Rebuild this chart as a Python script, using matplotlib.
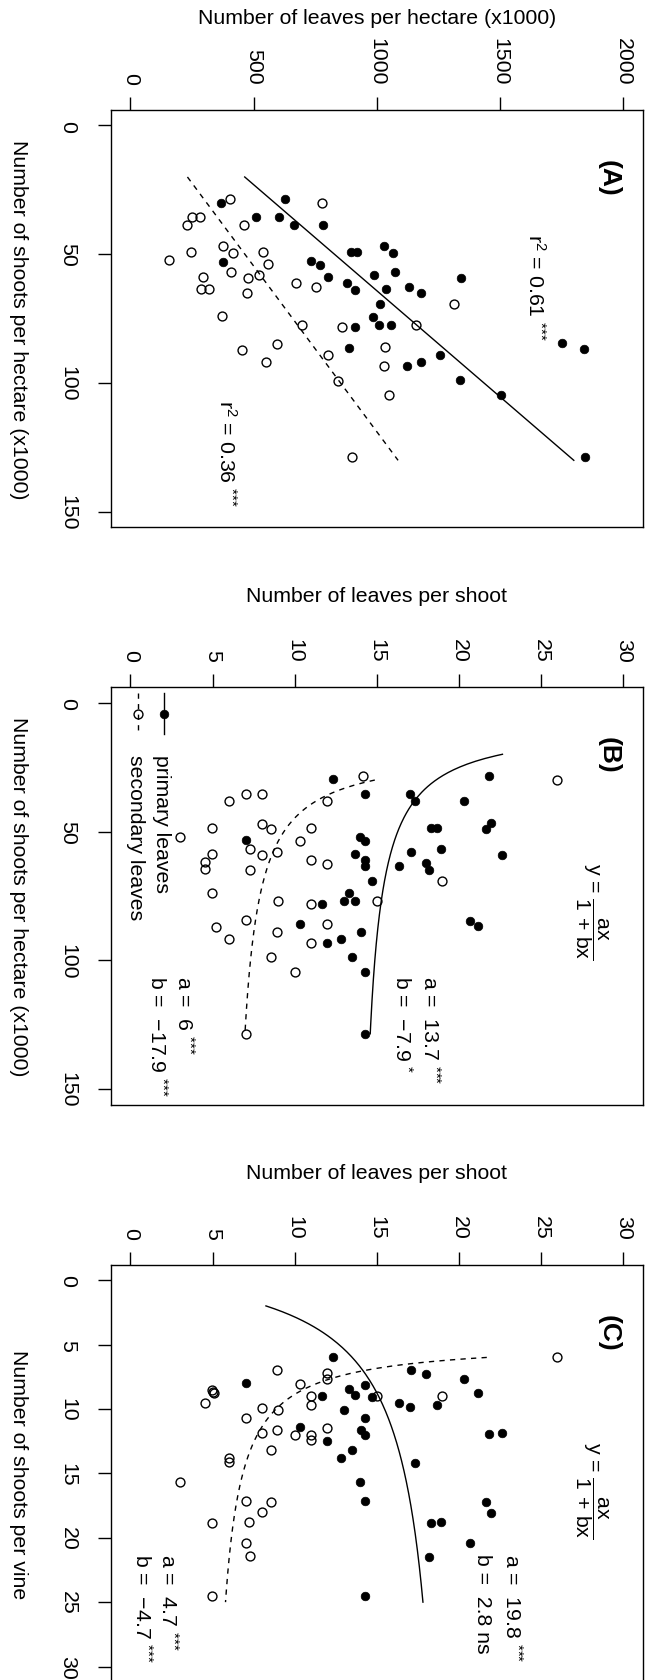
import numpy as np
import matplotlib
matplotlib.use("Agg")
import matplotlib.pyplot as plt

plt.rcParams['font.family'] = ['Liberation Sans', 'DejaVu Sans']
plt.rcParams['mathtext.fontset'] = 'custom'
plt.rcParams['mathtext.rm'] = 'Liberation Sans'
plt.rcParams['mathtext.it'] = 'Liberation Sans'
plt.rcParams['mathtext.sf'] = 'Liberation Sans'
plt.rcParams['mathtext.bf'] = 'Liberation Sans:bold'
plt.rcParams['axes.linewidth'] = 1.0

# ---- (A) leaves per hectare vs shoots per hectare ----
a_prim_shoots = [30.0, 28.7, 35.7, 35.4, 38.5, 38.5, 49.0, 49.0, 46.9, 49.4, 53.2, 52.5,
                 54.0, 58.7, 57.9, 56.7, 61.2, 63.7, 63.3, 62.9, 65.1, 59.4, 69.4, 74.2,
                 77.3, 77.3, 78.2, 86.2, 89.3, 93.4, 92.0, 84.6, 86.8, 99.0, 104.7, 128.8]
a_prim_leaves = [369, 626, 509, 602, 665, 781, 897, 918, 1028, 1066, 375, 732,
                 770, 802, 989, 1073, 877, 912, 1038, 1131, 1181, 1342, 1014, 986,
                 1007, 1056, 912, 889, 1256, 1121, 1179, 1751, 1840, 1336, 1504, 1844]
a_sec_shoots = [28.7, 30.1, 35.7, 35.7, 38.5, 38.5, 46.9, 49.4, 49.0, 49.0, 52.3, 53.7,
                56.8, 57.9, 59.3, 58.8, 63.6, 63.6, 65.1, 61.1, 62.9, 74.0, 69.4, 77.4,
                78.2, 77.4, 84.8, 87.0, 91.9, 89.3, 86.0, 93.4, 99.1, 104.8, 128.7]
a_sec_leaves = [406, 778, 248, 284, 231, 461, 375, 418, 538, 245, 157, 558,
                410, 520, 476, 294, 287, 320, 473, 672, 754, 370, 1315, 696,
                859, 1160, 595, 451, 552, 800, 1032, 1028, 843, 1049, 901]
# linear fits (intercept, slope), drawn over shoots 20..130
a_prim_fit = (221, 12.14)
a_sec_fit = (76, 7.77)

# ---- (B) leaves per shoot vs shoots per hectare ----
b_prim_leaves = [21.85, 12.34, 14.30, 16.99, 17.31, 20.31, 21.96, 21.64, 18.30, 18.64, 13.96, 14.30,
                 7.01, 13.67, 17.05, 18.89, 22.64, 14.30, 14.30, 16.35, 17.98, 18.15, 14.68, 13.31,
                 11.66, 12.99, 13.67, 10.33, 20.65, 21.18, 14.05, 12.80, 11.98, 13.46, 14.30, 14.30]
b_prim_shoots = [28.6, 29.7, 35.6, 35.5, 38.3, 38.3, 46.7, 49.1, 48.8, 48.8, 52.0, 53.8,
                 53.1, 58.7, 58.1, 56.9, 59.1, 61.0, 63.2, 63.5, 62.4, 64.9, 69.3, 73.8,
                 78.2, 77.1, 77.1, 85.9, 84.6, 86.7, 89.0, 91.6, 93.4, 98.7, 104.7, 128.5]
b_sec_leaves = [25.98, 14.18, 11.98, 7.01, 8.00, 6.01, 8.00, 8.53, 11.00, 4.98, 10.33, 2.99,
                7.26, 8.00, 8.95, 4.98, 11.00, 11.98, 4.51, 4.51, 7.26, 18.99, 4.98, 8.99,
                11.00, 15.02, 7.01, 11.98, 5.19, 8.95, 6.01, 11.00, 8.53, 10.01, 7.01]
b_sec_shoots = [29.8, 28.6, 38.3, 35.6, 35.6, 38.3, 47.0, 49.1, 48.8, 48.8, 53.8, 52.2,
                56.6, 59.0, 57.9, 58.6, 61.0, 62.7, 61.9, 64.5, 65.0, 69.1, 73.8, 77.1,
                78.2, 77.1, 84.4, 85.9, 86.9, 89.1, 91.6, 93.4, 98.7, 104.7, 128.5]
b_prim_ab = (13.7, -7.9)
b_sec_ab = (6.0, -17.9)

# ---- (C) leaves per shoot vs shoots per vine ----
c_prim_leaves = [12.34, 17.05, 17.98, 20.31, 21.16, 7.01, 14.30, 13.31, 13.67, 14.68, 11.64, 16.35,
                 16.99, 18.64, 12.99, 14.30, 10.33, 14.05, 14.30, 11.98, 21.85, 22.64, 13.46, 12.80,
                 17.31, 13.99, 14.30, 21.64, 21.96, 18.30, 18.89, 20.65, 18.15, 14.30]
c_prim_shoots = [5.95, 6.94, 7.27, 7.66, 8.78, 8.02, 8.13, 8.46, 8.88, 9.06, 8.98, 9.53,
                 9.86, 9.66, 10.07, 10.67, 11.44, 11.60, 12.04, 12.48, 11.96, 11.86, 13.18, 13.80,
                 14.19, 15.66, 17.14, 17.21, 18.07, 18.85, 18.77, 20.40, 21.49, 24.54]
c_sec_leaves = [25.98, 8.95, 11.98, 11.98, 10.33, 4.94, 5.04, 5.11, 4.51, 11.00, 11.00, 15.02,
                18.99, 8.00, 8.99, 7.01, 11.98, 8.95, 8.00, 10.01, 11.00, 11.00, 8.53, 5.99,
                5.99, 2.99, 7.01, 8.53, 8.00, 4.98, 7.22, 7.01, 7.26, 4.98]
c_sec_shoots = [5.95, 6.96, 7.22, 7.71, 8.08, 8.5, 8.7, 8.8, 9.53, 8.98, 9.71, 8.96,
                9.01, 9.89, 10.07, 10.67, 11.47, 11.65, 11.88, 12.04, 12.06, 12.43, 13.20, 13.80,
                14.13, 15.66, 17.14, 17.19, 18.02, 18.85, 18.77, 20.37, 21.43, 24.49]
c_prim_ab = (19.8, 2.8)
c_sec_ab = (4.7, -4.7)

# ---- layout (pixels) ----
W, H = 646, 1681
ax_left, ax_w, ax_h = 110.7, 532.3, 417.3
ax_tops = [111.0, 688.3, 1265.7]
FS = 15.3
MS_OPEN, MS_FILL = 6.4, 6.2
DASH = (3.8, 3.8)
STARS = r"$^{{*}{*}{*}}$"
FORMULA = r"y = $\dfrac{ax}{1\,+\,bx}$"

fig = plt.figure(figsize=(W / 100, H / 100), dpi=100)


def hyper(ab, s):
    a, b = ab
    return a * s / (s + b)


def setup(ax, xlim, ylim, xticks, yticks, xlabel, ylabel, top):
    ax.set_xlim(*xlim)
    ax.set_ylim(*ylim)
    ax.xaxis.tick_top()
    ax.set_xticks(xticks)
    ax.set_xticklabels([str(t) for t in xticks], rotation=-90)
    ax.set_yticks(yticks)
    ax.set_yticklabels([str(t) for t in yticks], rotation=-90, va='center')
    ax.tick_params(axis='both', direction='out', length=9.6, width=1.0,
                   labelsize=FS, colors='black')
    ax.tick_params(axis='x', pad=9.1)
    ax.tick_params(axis='y', pad=14.3)
    cx = (ax_left + ax_w / 2) / W
    fig.text(cx, 1 - (top - 92) / H, xlabel, ha='center', va='center', fontsize=FS)
    cy = 1 - (top + ax_h / 2) / H
    fig.text((ax_left - 92) / W, cy, ylabel, ha='center', va='center',
             rotation=-90, fontsize=FS)


def rtext(ax, x, y, s, size=FS, **kw):
    ax.text(x, y, s, rotation=-90, fontsize=size, **kw)


def stat(ax, x, y, s):
    ax.text(x, y, s, rotation=-90, rotation_mode='anchor', ha='left',
            va='baseline', fontsize=FS)


def pts(ax, leaves, shoots, filled):
    if filled:
        ax.plot(leaves, shoots, 'o', ms=MS_FILL, mfc='black', mec='black', mew=0.5)
    else:
        ax.plot(leaves, shoots, 'o', ms=MS_OPEN, mfc='none', mec='black', mew=1.0)


axes = []
for top in ax_tops:
    axes.append(fig.add_axes([ax_left / W, 1 - (top + ax_h) / H, ax_w / W, ax_h / H]))

# ---- panel A ----
ax = axes[0]
setup(ax, (-80, 2080), (156, -6), [0, 500, 1000, 1500, 2000], [0, 50, 100, 150],
      "Number of leaves per hectare (x1000)", "Number of shoots per hectare (x1000)", ax_tops[0])
pts(ax, a_prim_leaves, a_prim_shoots, True)
pts(ax, a_sec_leaves, a_sec_shoots, False)
s = np.array([20, 130])
ax.plot(a_prim_fit[0] + a_prim_fit[1] * s, s, color='black', lw=1.0)
ax.plot(a_sec_fit[0] + a_sec_fit[1] * s, s, color='black', lw=1.0, dashes=DASH)
rtext(ax, 1942, 20.3, "(A)", size=19, ha='center', va='center', fontweight='bold')
rtext(ax, 1642, 62.5, "r$^2$ = 0.61 " + STARS, ha='center', va='center')
rtext(ax, 389, 127.1, "r$^2$ = 0.36 " + STARS, ha='center', va='center')

# ---- panel B ----
ax = axes[1]
setup(ax, (-1.2, 31.2), (156, -6), list(range(0, 31, 5)), [0, 50, 100, 150],
      "Number of leaves per shoot", "Number of shoots per hectare (x1000)", ax_tops[1])
pts(ax, b_prim_leaves, b_prim_shoots, True)
pts(ax, b_sec_leaves, b_sec_shoots, False)
s1 = np.linspace(20, 128.5, 200)
s2 = np.linspace(30, 128.5, 200)
ax.plot(hyper(b_prim_ab, s1), s1, color='black', lw=1.0)
ax.plot(hyper(b_sec_ab, s2), s2, color='black', lw=1.0, dashes=DASH)
rtext(ax, 29.09, 20.0, "(B)", size=19, ha='center', va='center', fontweight='bold')
rtext(ax, 28.07, 80.6, FORMULA, ha='center', va='center')
stat(ax, 17.84, 105.8, "a =  13.7 " + STARS)
stat(ax, 16.14, 105.8, "b =  \u22127.9 $^{*}$")
stat(ax, 2.82, 105.8, "a =  6 " + STARS)
stat(ax, 1.23, 105.8, "b =  \u221217.9 " + STARS)
# legend
ax.plot([2.07, 2.07], [-3.9, 12.3], color='black', lw=1.0)
pts(ax, [2.07], [4.3], True)
ax.plot([0.45, 0.45], [-3.9, 12.3], color='black', lw=1.0, dashes=DASH)
pts(ax, [0.45], [4.3], False)
stat(ax, 1.55, 20.0, "primary leaves")
stat(ax, -0.04, 20.0, "secondary leaves")

# ---- panel C ----
ax = axes[2]
setup(ax, (-1.2, 31.2), (31.2, -1.2), list(range(0, 31, 5)), list(range(0, 31, 5)),
      "Number of leaves per shoot", "Number of shoots per vine", ax_tops[2])
pts(ax, c_prim_leaves, c_prim_shoots, True)
pts(ax, c_sec_leaves, c_sec_shoots, False)
s1 = np.linspace(2, 25, 200)
s2 = np.linspace(6, 25, 200)
ax.plot(hyper(c_prim_ab, s1), s1, color='black', lw=1.0)
ax.plot(hyper(c_sec_ab, s2), s2, color='black', lw=1.0, dashes=DASH)
rtext(ax, 29.09, 4.09, "(C)", size=19, ha='center', va='center', fontweight='bold')
rtext(ax, 28.03, 16.26, FORMULA, ha='center', va='center')
stat(ax, 22.8, 21.18, "a =  19.8 " + STARS)
stat(ax, 21.11, 21.18, "b =  2.8 ns")
stat(ax, 1.87, 21.18, "a =  4.7 " + STARS)
stat(ax, 0.28, 21.18, "b =  \u22124.7 " + STARS)

fig.savefig("out.png", dpi=100)
